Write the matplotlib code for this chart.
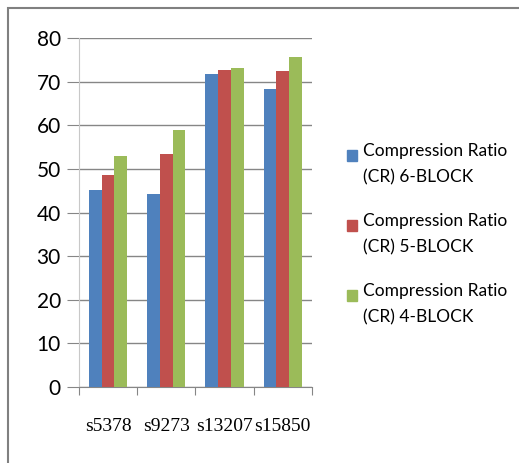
import numpy as np
import matplotlib.pyplot as plt
from matplotlib.patches import Rectangle

# Данные с графика
categories = ['s5378', 's9273', 's13207', 's15850']
cr_6block = [45.2, 44.3, 71.8, 68.3]
cr_5block = [48.5, 53.4, 72.7, 72.5]
cr_4block = [53.0, 58.9, 73.2, 75.6]
labels = ['Compression Ratio\n(CR) 6-BLOCK',
          'Compression Ratio\n(CR) 5-BLOCK',
          'Compression Ratio\n(CR) 4-BLOCK']
colors = ['#4F81BD', '#C0504D', '#9BBB59']

W, H = 519, 463
fig = plt.figure(figsize=(W / 100, H / 100), dpi=100)
ax = fig.add_axes([0.152, 0.164, 0.449, 0.754])

# внешняя рамка
fig.patches.append(Rectangle((8 / W, -0.01), 1.1, 1 - 8 / H + 0.01,
                             transform=fig.transFigure, fill=False,
                             edgecolor='#808080', linewidth=1.5))

x = np.arange(len(categories))
w = 0.22
series = [cr_6block, cr_5block, cr_4block]
for i, (vals, col) in enumerate(zip(series, colors)):
    ax.bar(x + (i - 1) * w, vals, w, color=col, zorder=3)

ax.set_xlim(-0.5, len(categories) - 0.5)
ax.set_ylim(0, 80)
ax.set_yticks(range(0, 81, 10))
ax.yaxis.grid(True, color='#868686', linewidth=1)
ax.set_axisbelow(True)

for s in ['top', 'right']:
    ax.spines[s].set_visible(False)
ax.spines['left'].set_color('#c8c8c8')
ax.spines['bottom'].set_color('#868686')

ax.set_xticks(np.arange(-0.5, len(categories), 1.0))
ax.set_xticklabels([])
ax.set_xticks(x, minor=True)
ax.set_xticklabels(categories, minor=True, family='Liberation Serif', fontsize=14)
ax.tick_params(axis='x', which='major', length=6, color='#868686')
ax.tick_params(axis='x', which='minor', length=0, pad=22)
ax.tick_params(axis='y', length=9, color='#868686', labelsize=15, pad=4)
for t in ax.get_yticklabels():
    t.set_family('Lato')

# легенда
for i, (lab, col) in enumerate(zip(labels, colors)):
    yc = 155 + 70 * i
    fig.patches.append(Rectangle((347 / W, 1 - (yc + 5.5) / H), 10 / W, 11 / H,
                                 transform=fig.transFigure, color=col))
    fig.text(363 / W, 1 - (yc - 12) / H, lab, va='top', ha='left',
             family='Lato', fontsize=12.5, linespacing=1.8)

fig.savefig('out.png', dpi=100)
